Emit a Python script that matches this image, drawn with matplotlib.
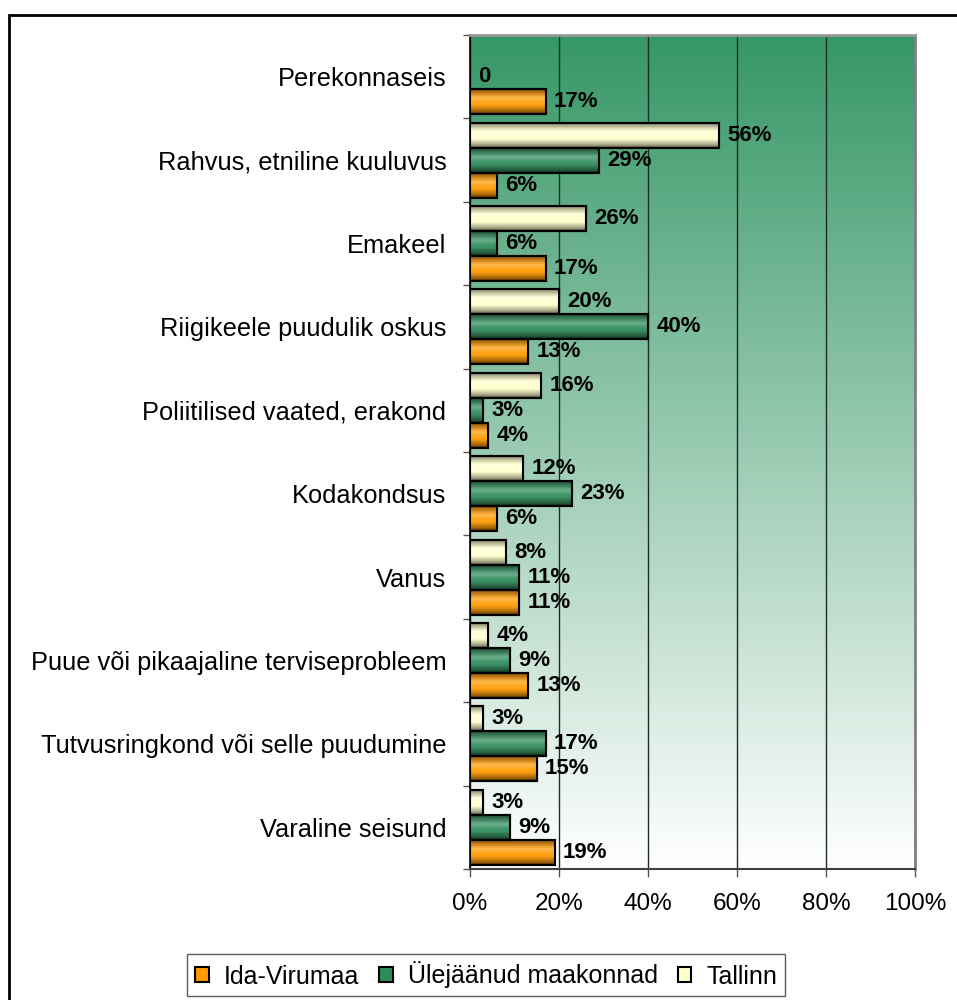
import matplotlib
matplotlib.use("Agg")
import matplotlib.pyplot as plt
from matplotlib.patches import Rectangle, Patch
from matplotlib.colors import to_rgb
import numpy as np

plt.rcParams['font.family'] = ['Liberation Sans', 'DejaVu Sans']

categories = ["Perekonnaseis", "Rahvus, etniline kuuluvus", "Emakeel",
              "Riigikeele puudulik oskus", "Poliitilised vaated, erakond",
              "Kodakondsus", "Vanus", "Puue või pikaajaline terviseprobleem",
              "Tutvusringkond või selle puudumine", "Varaline seisund"]
tallinn = [np.nan, 56, 26, 20, 16, 12, 8, 4, 3, 3]
ulejaanud = [0, 29, 6, 40, 3, 23, 11, 9, 17, 9]
ida_virumaa = [17, 6, 17, 13, 4, 6, 11, 13, 15, 19]
# labels shown next to the bars ("0" has no percent sign)
tallinn_lbl = ["", "56%", "26%", "20%", "16%", "12%", "8%", "4%", "3%", "3%"]
ulejaanud_lbl = ["0", "29%", "6%", "40%", "3%", "23%", "11%", "9%", "17%", "9%"]
ida_lbl = ["17%", "6%", "17%", "13%", "4%", "6%", "11%", "13%", "15%", "19%"]

series = [
    ("Tallinn", tallinn, tallinn_lbl, "#FFFFCC", -0.3),
    ("Ülejäänud maakonnad", ulejaanud, ulejaanud_lbl, "#2E8B5A", 0.0),
    ("Ida-Virumaa", ida_virumaa, ida_lbl, "#FF9900", 0.3),
]

fig = plt.figure(figsize=(9.57, 10), dpi=100)
ax = fig.add_axes([470 / 957, 1 - 869 / 1000, 445 / 957, 834 / 1000])

# green-to-white background of the plot area
top = np.array(to_rgb("#369766"))
grad = np.linspace(0, 1, 256)[:, None, None]
bg = top * (1 - grad) + np.ones(3) * grad
ax.imshow(bg, extent=(0, 1, 0, 1), transform=ax.transAxes, aspect='auto',
          origin='upper', zorder=0)
ax.patch.set_visible(False)

# cylinder-like shading across each bar
t = np.linspace(0, 1, 64)
shade = np.interp(t, [0, 0.1, 0.35, 0.65, 0.9, 1], [0.25, 0.6, 1.0, 1.0, 0.6, 0.25])
hilite = np.interp(t, [0, 0.25, 0.4, 0.55, 1], [0, 0.15, 0.3, 0.1, 0])


def shaded(col):
    base = np.array(to_rgb(col))
    img = base[None, :] * shade[:, None]
    img = img + (1 - img) * hilite[:, None]
    return np.clip(img, 0, 1)[:, None, :]


y = np.arange(len(categories))
for name, vals, lbls, col, off in series:
    bars = ax.barh(y + off, vals, height=0.3, color=col, edgecolor='black',
                   linewidth=1.5, zorder=3)
    img = shaded(col)
    for rect, v, lbl in zip(bars, vals, lbls):
        if np.isnan(v):
            continue
        x0, y0 = rect.get_x(), rect.get_y()
        w, h = rect.get_width(), rect.get_height()
        if w > 0:
            im = ax.imshow(img, extent=(x0, x0 + w, y0 + h, y0), aspect='auto',
                           origin='upper', zorder=3.5, interpolation='bilinear')
            im.set_clip_path(rect)
            ax.add_patch(Rectangle((x0, y0), w, h, fill=False, ec='black',
                                   lw=1.5, zorder=4))
        ax.annotate(lbl, (v, y0 + h / 2), xytext=(6, 0), textcoords='offset points',
                    ha='left', va='center', fontsize=16, fontweight='bold', zorder=5)

ax.set_xlim(0, 100)
ax.set_ylim(len(categories) - 0.5, -0.5)
ax.set_xticks(np.arange(0, 101, 20))
ax.set_xticklabels([f"{v}%" for v in range(0, 101, 20)], fontsize=17.5)
ax.set_yticks(y)
ax.set_yticklabels(categories, fontsize=18.3)
ax.set_yticks(np.arange(-0.5, len(categories), 1), minor=True)
ax.tick_params(axis='y', which='major', length=0, pad=17)
ax.tick_params(axis='y', which='minor', length=5, width=1, color='#555555')
ax.tick_params(axis='x', length=6, width=1, color='#555555', pad=11)

ax.xaxis.grid(True, color='#1E2E26', linewidth=1)
ax.set_axisbelow(True)
for gl in ax.get_xgridlines():
    gl.set_zorder(1)

ax.spines['left'].set_color('black')
ax.spines['left'].set_linewidth(1.2)
ax.spines['bottom'].set_color('#404040')
ax.spines['bottom'].set_linewidth(1.5)
ax.spines['top'].set_color('#999999')
ax.spines['top'].set_linewidth(2)
ax.spines['right'].set_color('#808080')
ax.spines['right'].set_linewidth(2)

# outer chart frame
fig.add_artist(Rectangle((9 / 957, -0.2), 1.2, 0.2 + 1 - 15 / 1000,
                         transform=fig.transFigure, fill=False, ec='black',
                         lw=2, clip_on=False))

handles = [Patch(facecolor="#FF9900", edgecolor='black', lw=1.5),
           Patch(facecolor="#2E8B5A", edgecolor='black', lw=1.5),
           Patch(facecolor="#FFFFCC", edgecolor='black', lw=1.5)]
leg = fig.legend(handles, ["Ida-Virumaa", "Ülejäänud maakonnad", "Tallinn"],
                 loc='center', bbox_to_anchor=(486 / 957, 1 - 975 / 1000),
                 ncol=3, fontsize=18, frameon=True, fancybox=False,
                 handlelength=0.55, handleheight=0.55, handletextpad=0.6,
                 columnspacing=0.8, borderpad=0.3)
leg.get_frame().set_edgecolor('#333333')
leg.get_frame().set_linewidth(1)

fig.savefig("out.png", dpi=100)
